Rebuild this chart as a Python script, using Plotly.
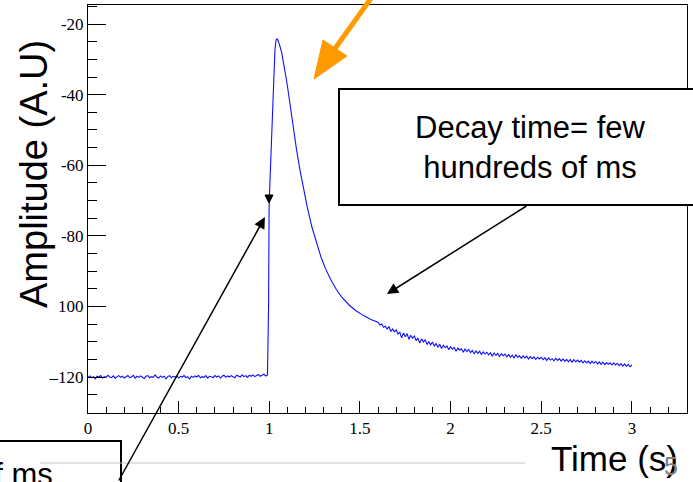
import plotly.graph_objects as go

# ---------------- data ----------------
t_base = [0.00, 0.01, 0.02, 0.03, 0.04, 0.05, 0.06, 0.07, 0.08, 0.09,
          0.10, 0.11, 0.12, 0.13, 0.14, 0.15, 0.16, 0.17, 0.18, 0.19,
          0.20, 0.21, 0.22, 0.23, 0.24, 0.25, 0.26, 0.27, 0.28, 0.29,
          0.30, 0.31, 0.32, 0.33, 0.34, 0.35, 0.36, 0.37, 0.38, 0.39,
          0.40, 0.41, 0.42, 0.43, 0.44, 0.45, 0.46, 0.47, 0.48, 0.49,
          0.50, 0.51, 0.52, 0.53, 0.54, 0.55, 0.56, 0.57, 0.58, 0.59,
          0.60, 0.61, 0.62, 0.63, 0.64, 0.65, 0.66, 0.67, 0.68, 0.69,
          0.70, 0.71, 0.72, 0.73, 0.74, 0.75, 0.76, 0.77, 0.78, 0.79,
          0.80, 0.81, 0.82, 0.83, 0.84, 0.85, 0.86, 0.87, 0.88, 0.89,
          0.90, 0.91, 0.92, 0.93, 0.94, 0.95, 0.96, 0.97, 0.98, 0.99]
a_base = [-120.1, -119.7, -120.2, -119.9, -120.5, -119.8, -120.0, -119.6, -120.3, -119.9,
          -120.1, -119.5, -120.0, -120.2, -119.7, -120.4, -119.9, -119.6, -120.1, -119.8,
          -120.3, -119.9, -119.6, -120.2, -120.0, -119.5, -120.3, -119.8, -120.1, -119.7,
          -120.0, -120.4, -119.8, -119.6, -120.2, -119.9, -120.1, -119.4, -120.0, -120.3,
          -119.7, -120.1, -119.8, -120.5, -119.9, -119.6, -120.2, -119.8, -120.0, -119.7,
          -120.3, -119.8, -120.0, -119.6, -120.2, -119.9, -120.6, -119.8, -120.1, -119.7,
          -120.0, -119.5, -120.2, -119.9, -120.1, -119.6, -120.3, -119.8, -119.9, -120.2,
          -119.6, -120.0, -119.7, -120.3, -119.8, -119.5, -120.1, -119.7, -120.0, -119.6,
          -119.9, -120.2, -119.5, -119.8, -120.0, -119.4, -119.9, -119.6, -120.1, -119.5,
          -119.8, -119.4, -119.9, -119.6, -119.3, -119.8, -119.5, -119.2, -119.7, -119.4]

t_pulse = [0.996, 0.999, 1.004, 1.013, 1.022, 1.031, 1.036, 1.041, 1.047,
           1.055, 1.068, 1.082, 1.096, 1.114, 1.132, 1.150, 1.170, 1.190, 1.210,
           1.235, 1.260, 1.285, 1.310, 1.340, 1.370, 1.400, 1.440, 1.480, 1.520, 1.560]
a_pulse = [-100.0, -72.0, -64.2, -50.0, -35.9, -27.4, -25.0, -24.1, -24.5,
           -25.6, -28.0, -31.8, -36.2, -42.5, -49.5, -55.5, -61.6, -67.0, -72.0,
           -77.5, -82.0, -86.0, -89.3, -92.5, -95.2, -97.4, -99.6, -101.3, -102.6, -103.7]

t_tail = [1.60, 1.61, 1.62, 1.63, 1.64, 1.65, 1.66, 1.67, 1.68, 1.69,
          1.70, 1.71, 1.72, 1.73, 1.74, 1.75, 1.76, 1.77, 1.78, 1.79,
          1.80, 1.81, 1.82, 1.83, 1.84, 1.85, 1.86, 1.87, 1.88, 1.89,
          1.90, 1.91, 1.92, 1.93, 1.94, 1.95, 1.96, 1.97, 1.98, 1.99,
          2.00, 2.01, 2.02, 2.03, 2.04, 2.05, 2.06, 2.07, 2.08, 2.09,
          2.10, 2.11, 2.12, 2.13, 2.14, 2.15, 2.16, 2.17, 2.18, 2.19,
          2.20, 2.21, 2.22, 2.23, 2.24, 2.25, 2.26, 2.27, 2.28, 2.29,
          2.30, 2.31, 2.32, 2.33, 2.34, 2.35, 2.36, 2.37, 2.38, 2.39,
          2.40, 2.41, 2.42, 2.43, 2.44, 2.45, 2.46, 2.47, 2.48, 2.49,
          2.50, 2.51, 2.52, 2.53, 2.54, 2.55, 2.56, 2.57, 2.58, 2.59,
          2.60, 2.61, 2.62, 2.63, 2.64, 2.65, 2.66, 2.67, 2.68, 2.69,
          2.70, 2.71, 2.72, 2.73, 2.74, 2.75, 2.76, 2.77, 2.78, 2.79,
          2.80, 2.81, 2.82, 2.83, 2.84, 2.85, 2.86, 2.87, 2.88, 2.89,
          2.90, 2.91, 2.92, 2.93, 2.94, 2.95, 2.96, 2.97, 2.98, 2.99, 3.00]
a_tail = [-104.5, -105.3, -105.0, -105.9, -105.6, -106.4, -105.7, -107.1, -106.4, -107.2,
          -106.6, -107.8, -107.3, -108.9, -107.5, -108.6, -107.7, -109.3, -108.2, -109.0,
          -108.4, -109.7, -109.0, -110.4, -109.2, -110.1, -109.4, -110.8, -110.0, -110.9,
          -110.1, -111.2, -110.5, -111.6, -110.7, -111.9, -111.0, -111.7, -111.2, -112.3,
          -111.4, -112.1, -111.6, -112.7, -111.8, -112.4, -112.0, -113.0, -112.1, -112.8,
          -112.2, -113.1, -112.5, -113.4, -112.6, -113.3, -112.7, -113.6, -112.9, -113.5,
          -113.0, -113.7, -113.1, -114.1, -113.2, -113.9, -113.3, -114.2, -113.4, -114.0,
          -113.5, -114.3, -113.6, -114.4, -113.8, -114.6, -113.7, -114.4, -114.0, -114.7,
          -114.0, -114.6, -114.1, -114.9, -114.2, -114.8, -114.3, -115.0, -114.4, -114.9,
          -114.4, -115.1, -114.5, -115.3, -114.6, -115.2, -114.8, -115.4, -114.7, -115.3,
          -114.8, -115.5, -114.9, -115.6, -115.0, -115.7, -115.0, -115.8, -115.1, -115.7,
          -115.2, -115.8, -115.3, -116.0, -115.4, -116.0, -115.5, -116.2, -115.5, -116.1,
          -115.6, -116.3, -115.7, -116.4, -115.8, -116.5, -115.9, -116.4, -116.0, -116.6,
          -116.0, -116.6, -116.1, -116.8, -116.2, -116.9, -116.3, -117.0, -116.4, -117.1, -116.6]

x_tickvals = [0, 0.5, 1, 1.5, 2, 2.5, 3]
x_ticktext = ["0", "0.5", "1", "1.5", "2", "2.5", "3"]
y_tickvals = [-20, -40, -60, -80, -100, -120]
y_ticktext = ["-20", "-40", "-60", "-80", "100", "\u2013120"]

t_all = t_base + t_pulse + t_tail
a_all = a_base + a_pulse + a_tail

# ---------------- layout geometry ----------------
W, H = 693, 482
L, R, T, B = 88, 6, 5, 69
PW, PH = W - L - R, H - T - B


def px(xp):
    return (xp - L) / PW


def py(yp):
    return (H - B - yp) / PH


fig = go.Figure()
fig.add_trace(go.Scatter(x=t_all, y=a_all, mode="lines",
                         line=dict(color="#1010ff", width=1.1),
                         hoverinfo="skip", showlegend=False))

tickfont = dict(family="Liberation Serif, Times New Roman, serif", size=17, color="black")
sans = "Liberation Sans, Arial, Helvetica, sans-serif"

fig.update_layout(
    width=W, height=H,
    margin=dict(l=L, r=R, t=T, b=B),
    paper_bgcolor="white", plot_bgcolor="white",
    showlegend=False,
    xaxis=dict(range=[0, 3.304], tickmode="array", tickvals=x_tickvals, ticktext=x_ticktext,
               ticks="inside", ticklen=12, tickwidth=1, tickcolor="black",
               minor=dict(ticks="inside", ticklen=6, tickwidth=1, tickcolor="black",
                          dtick=0.1, tick0=0, showgrid=False),
               showline=True, linecolor="black", linewidth=1, mirror=True,
               showgrid=False, zeroline=False, tickfont=tickfont),
    yaxis=dict(range=[-130.2, -14.6], tickmode="array", tickvals=y_tickvals, ticktext=y_ticktext,
               ticks="inside", ticklen=18, tickwidth=1, tickcolor="black",
               minor=dict(ticks="inside", ticklen=9, tickwidth=1, tickcolor="black",
                          dtick=5, tick0=0, showgrid=False),
               showline=True, linecolor="black", linewidth=1, mirror=True,
               showgrid=False, zeroline=False, tickfont=tickfont),
)

shapes = []
# decay text box (white filled, extends past right edge)
shapes.append(dict(type="rect", xref="paper", yref="paper",
                   x0=px(339), x1=px(720), y0=py(205), y1=py(89),
                   line=dict(color="black", width=2), fillcolor="white", layer="above"))
# bottom-left partial box
shapes.append(dict(type="rect", xref="paper", yref="paper",
                   x0=px(-20), x1=px(121), y0=py(530), y1=py(441),
                   line=dict(color="black", width=2), fillcolor="rgba(0,0,0,0)", layer="above"))
# grey slide rule
shapes.append(dict(type="line", xref="paper", yref="paper",
                   x0=px(40), x1=px(525), y0=py(463), y1=py(463),
                   line=dict(color="#c4c4c4", width=1), layer="above"))
# orange arrow shaft and head
shapes.append(dict(type="line", xref="paper", yref="paper",
                   x0=px(374), y0=py(-6), x1=px(334), y1=py(50),
                   line=dict(color="#ff9a00", width=5), layer="above"))
shapes.append(dict(type="path", xref="paper", yref="paper",
                   path="M {:.5f},{:.5f} L {:.5f},{:.5f} L {:.5f},{:.5f} Z".format(
                       px(314), py(79), px(323), py(40), px(347), py(56)),
                   line=dict(color="#ff9a00", width=1), fillcolor="#ff9a00", layer="above"))
# small down-pointing arrowhead on the rising edge
shapes.append(dict(type="path", xref="paper", yref="paper",
                   path="M {:.5f},{:.5f} L {:.5f},{:.5f} L {:.5f},{:.5f} Z".format(
                       px(269), py(203), px(265), py(195), px(273), py(195)),
                   line=dict(color="black", width=1), fillcolor="black", layer="above"))
fig.update_layout(shapes=shapes)

ann = []
# black arrows
ann.append(dict(x=0.976, y=-74.7, xref="x", yref="y", ax=-147, ay=273, text="",
                showarrow=True, arrowhead=2, arrowsize=1.5, arrowwidth=1.5, arrowcolor="black"))
ann.append(dict(x=1.649, y=-96.5, xref="x", yref="y", ax=141, ay=-89, text="",
                showarrow=True, arrowhead=2, arrowsize=1.5, arrowwidth=1.5, arrowcolor="black"))
# texts
ann.append(dict(x=px(530), y=py(147), xref="paper", yref="paper", showarrow=False,
                text="Decay time= few<br>hundreds of ms", align="center",
                xanchor="center", yanchor="middle", font=dict(family=sans, size=31, color="black")))
ann.append(dict(x=px(614), y=py(458), xref="paper", yref="paper", showarrow=False,
                text="Time (s)", xanchor="center", yanchor="middle",
                font=dict(family=sans, size=35, color="black")))
ann.append(dict(x=px(671), y=py(466), xref="paper", yref="paper", showarrow=False,
                text="5", xanchor="center", yanchor="middle",
                font=dict(family=sans, size=25, color="#808080")))
ann.append(dict(x=px(34), y=py(174), xref="paper", yref="paper", showarrow=False,
                text="Amplitude (A.U)", textangle=-90, xanchor="center", yanchor="middle",
                font=dict(family=sans, size=38, color="black")))
ann.append(dict(x=px(55), y=py(475), xref="paper", yref="paper", showarrow=False,
                text="of ms", xanchor="right", yanchor="middle",
                font=dict(family=sans, size=31, color="black")))
fig.update_layout(annotations=ann)

fig.write_html("out.html")
